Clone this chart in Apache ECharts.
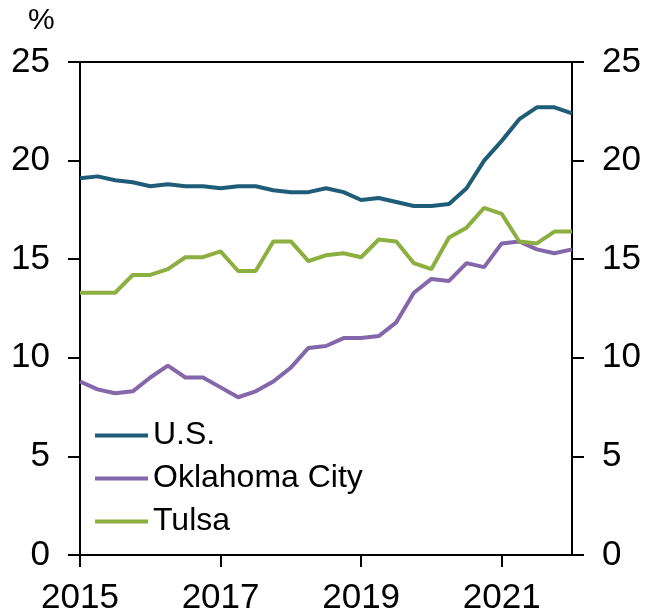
<!DOCTYPE html>
<html>
<head>
<meta charset="utf-8">
<script src="https://cdn.jsdelivr.net/npm/echarts@6/dist/echarts.min.js"></script>
<style>
 html, body { margin: 0; padding: 0; background: #fff; }
 #chart1 { width: 652px; height: 616px; }
</style>
</head>
<body>
<div id="chart1"></div>
<script>
// quarterly, 2015Q1 .. 2022Q1
var quarters = [
 '2015Q1','2015Q2','2015Q3','2015Q4','2016Q1','2016Q2','2016Q3','2016Q4',
 '2017Q1','2017Q2','2017Q3','2017Q4','2018Q1','2018Q2','2018Q3','2018Q4',
 '2019Q1','2019Q2','2019Q3','2019Q4','2020Q1','2020Q2','2020Q3','2020Q4',
 '2021Q1','2021Q2','2021Q3','2021Q4','2022Q1'
];
var usRate = [19.1, 19.2, 19.0, 18.9, 18.7, 18.8, 18.7, 18.7, 18.6, 18.7, 18.7, 18.5, 18.4, 18.4, 18.6,
 18.4, 18.0, 18.1, 17.9, 17.7, 17.7, 17.8, 18.6, 20.0, 21.0, 22.1, 22.7, 22.7, 22.4];
var okcRate = [8.8, 8.4, 8.2, 8.3, 9.0, 9.6, 9.0, 9.0, 8.5, 8.0, 8.3, 8.8, 9.5, 10.5, 10.6,
 11.0, 11.0, 11.1, 11.8, 13.3, 14.0, 13.9, 14.8, 14.6, 15.8, 15.9, 15.5, 15.3, 15.5];
var tulsaRate = [13.3, 13.3, 13.3, 14.2, 14.2, 14.5, 15.1, 15.1, 15.4, 14.4, 14.4, 15.9, 15.9, 14.9, 15.2,
 15.3, 15.1, 16.0, 15.9, 14.8, 14.5, 16.1, 16.6, 17.6, 17.3, 15.9, 15.8, 16.4, 16.4];
var yTicks = [0, 5, 10, 15, 20, 25];

var font = '"Liberation Sans", Arial, sans-serif';

var dom = document.getElementById("chart1");
var myChart = echarts.init(dom);

function yAxisFor(pos) {
 return {
	 type: 'value',
	 position: pos,
	 min: yTicks[0],
	 max: yTicks[yTicks.length - 1],
	 interval: 5,
	 axisLine: { show: true, lineStyle: { color: '#000', width: 2 } },
	 axisTick: { show: true, length: 12, lineStyle: { color: '#000', width: 2 } },
	 axisLabel: { color: '#000', fontSize: 35, fontFamily: font, margin: 30 },
	 splitLine: { show: false }
 };
}

var option = {
 animation: false,
 title: {
	 text: '%',
	 left: 28,
	 top: 6,
	 padding: 0,
	 textStyle: { color: '#000', fontSize: 30, fontWeight: 'normal', fontFamily: font }
 },
 grid: {
	 left: 80,
	 right: 80,
	 top: 62,
	 bottom: 61,
	 show: true,
	 borderColor: '#000',
	 borderWidth: 2
 },
 legend: {
	 orient: 'vertical',
	 left: 95,
	 top: 418,
	 padding: 0,
	 icon: 'rect',
	 itemWidth: 53,
	 itemHeight: 4,
	 itemGap: 8,
	 textStyle: { color: '#000', fontSize: 32, fontFamily: font, lineHeight: 35 },
	 data: ['U.S.', 'Oklahoma City', 'Tulsa']
 },
 xAxis: {
	 type: 'category',
	 boundaryGap: false,
	 data: quarters,
	 axisLine: { show: true, lineStyle: { color: '#000', width: 2 } },
	 axisTick: {
		 show: true,
		 length: 12,
		 interval: function (i) { return i % 8 === 0; },
		 lineStyle: { color: '#000', width: 2 }
	 },
	 axisLabel: {
		 color: '#000',
		 fontSize: 35,
		 fontFamily: font,
		 margin: 26,
		 interval: function (i) { return i % 8 === 0; },
		 formatter: function (v) { return v.slice(0, 4); }
	 },
	 splitLine: { show: false }
 },
 yAxis: [yAxisFor('left'), yAxisFor('right')],
 series: [
	 {
		 name: 'U.S.',
		 type: 'line',
		 data: usRate,
		 showSymbol: false,
		 lineStyle: { width: 4, color: '#1e5c78' },
		 itemStyle: { color: '#1e5c78' }
	 },
	 {
		 name: 'Oklahoma City',
		 type: 'line',
		 data: okcRate,
		 showSymbol: false,
		 lineStyle: { width: 4, color: '#8466ab' },
		 itemStyle: { color: '#8466ab' }
	 },
	 {
		 name: 'Tulsa',
		 type: 'line',
		 data: tulsaRate,
		 showSymbol: false,
		 lineStyle: { width: 4, color: '#8bb040' },
		 itemStyle: { color: '#8bb040' }
	 }
 ]
};

myChart.setOption(option);
</script>
</body>
</html>
